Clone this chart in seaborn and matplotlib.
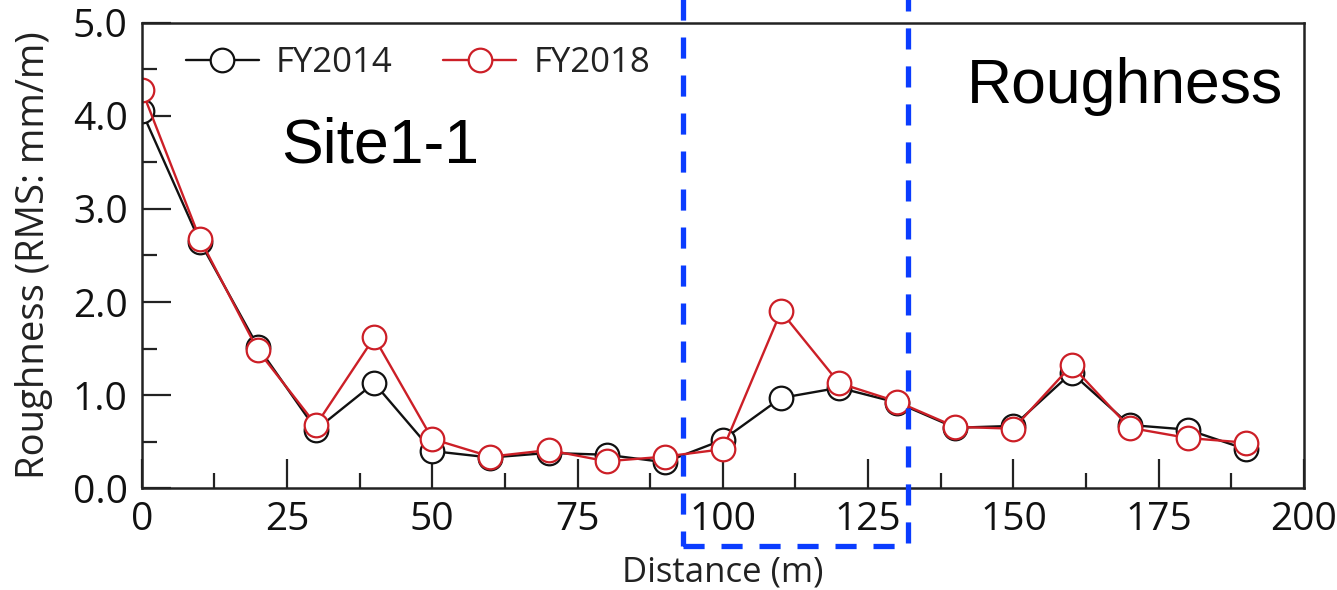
import matplotlib
matplotlib.use("Agg")
import matplotlib.pyplot as plt
from matplotlib.patches import Rectangle
from matplotlib.ticker import MultipleLocator
import seaborn as sns
import numpy as np

distance = [0, 10, 20, 30, 40, 50, 60, 70, 80, 90, 100, 110, 120, 130, 140, 150, 160, 170, 180, 190]
fy2014 = [4.05, 2.65, 1.52, 0.63, 1.13, 0.40, 0.33, 0.38, 0.36, 0.28, 0.52, 0.97, 1.08, 0.92, 0.65, 0.67, 1.24, 0.68, 0.63, 0.42]
fy2018 = [4.28, 2.68, 1.48, 0.68, 1.62, 0.53, 0.34, 0.41, 0.29, 0.34, 0.42, 1.90, 1.13, 0.93, 0.66, 0.64, 1.32, 0.65, 0.54, 0.49]
series_names = ["FY2014", "FY2018"]
x_ticks = [0, 25, 50, 75, 100, 125, 150, 175, 200]
y_ticks = [0.0, 1.0, 2.0, 3.0, 4.0, 5.0]
box_x = [93.1, 131.9]
box_y = [-0.62, 5.8]

sns.set_theme(style="white")
plt.rcParams['font.family'] = ['Open Sans', 'DejaVu Sans']

fig = plt.figure(figsize=(13.37, 5.90), dpi=100)
ax = fig.add_axes([0.106, 0.1724, 0.8693, 0.7891])

common = dict(marker='o', markersize=17, markerfacecolor='white', markeredgewidth=1.6, linewidth=1.7)
sns.lineplot(x=distance, y=fy2014, ax=ax, color='#111111', markeredgecolor='#111111',
             label=series_names[0], **common)
sns.lineplot(x=distance, y=fy2018, ax=ax, color='#cc1f27', markeredgecolor='#cc1f27',
             label=series_names[1], **common)

ax.set_xlim(0, 200)
ax.set_ylim(0, 5.0)
ax.set_xticks(x_ticks)
ax.set_xticklabels([str(t) for t in x_ticks])
ax.set_yticks(y_ticks)
ax.set_yticklabels([f"{t:.1f}" for t in y_ticks])
ax.xaxis.set_minor_locator(MultipleLocator(12.5))
ax.yaxis.set_minor_locator(MultipleLocator(0.5))
ax.tick_params(axis='both', which='major', direction='in', length=21, width=1.6, color='#222222',
               labelsize=28, labelcolor='#111111')
ax.tick_params(axis='both', which='minor', direction='in', length=11, width=1.6, color='#222222')
ax.tick_params(axis='x', which='major', pad=9, bottom=True)
ax.tick_params(axis='x', which='minor', bottom=True)
ax.tick_params(axis='y', which='major', pad=10, left=True)
ax.tick_params(axis='y', which='minor', left=True)
for s in ax.spines.values():
    s.set_color('#222222')
    s.set_linewidth(1.8)

ax.set_xlabel("Distance (m)", fontsize=25, color='#222222', labelpad=12)
ax.set_ylabel("Roughness (RMS: mm/m)", fontsize=27.5, color='#222222', labelpad=14)

leg = ax.legend(loc='upper left', ncol=2, frameon=False, fontsize=25,
                handlelength=2.1, handletextpad=0.5, columnspacing=1.45,
                bbox_to_anchor=(0.02, 0.995), borderaxespad=0.2)
for t in leg.get_texts():
    t.set_color('#222222')

ax.text(0.12, 0.70, "Site1-1", transform=ax.transAxes, fontsize=45,
        family=['Liberation Sans', 'DejaVu Sans'], ha='left', va='baseline', color='black')
ax.text(0.982, 0.828, "Roughness", transform=ax.transAxes, fontsize=45,
        family=['Liberation Sans', 'DejaVu Sans'], ha='right', va='baseline', color='black')

rect = Rectangle((box_x[0], box_y[0]), box_x[1] - box_x[0], box_y[1] - box_y[0],
                 fill=False, edgecolor='#0a3cff', linewidth=3.8, linestyle=(0, (4, 3.2)),
                 clip_on=False, zorder=5)
ax.add_patch(rect)

fig.savefig("out.png", dpi=100)
